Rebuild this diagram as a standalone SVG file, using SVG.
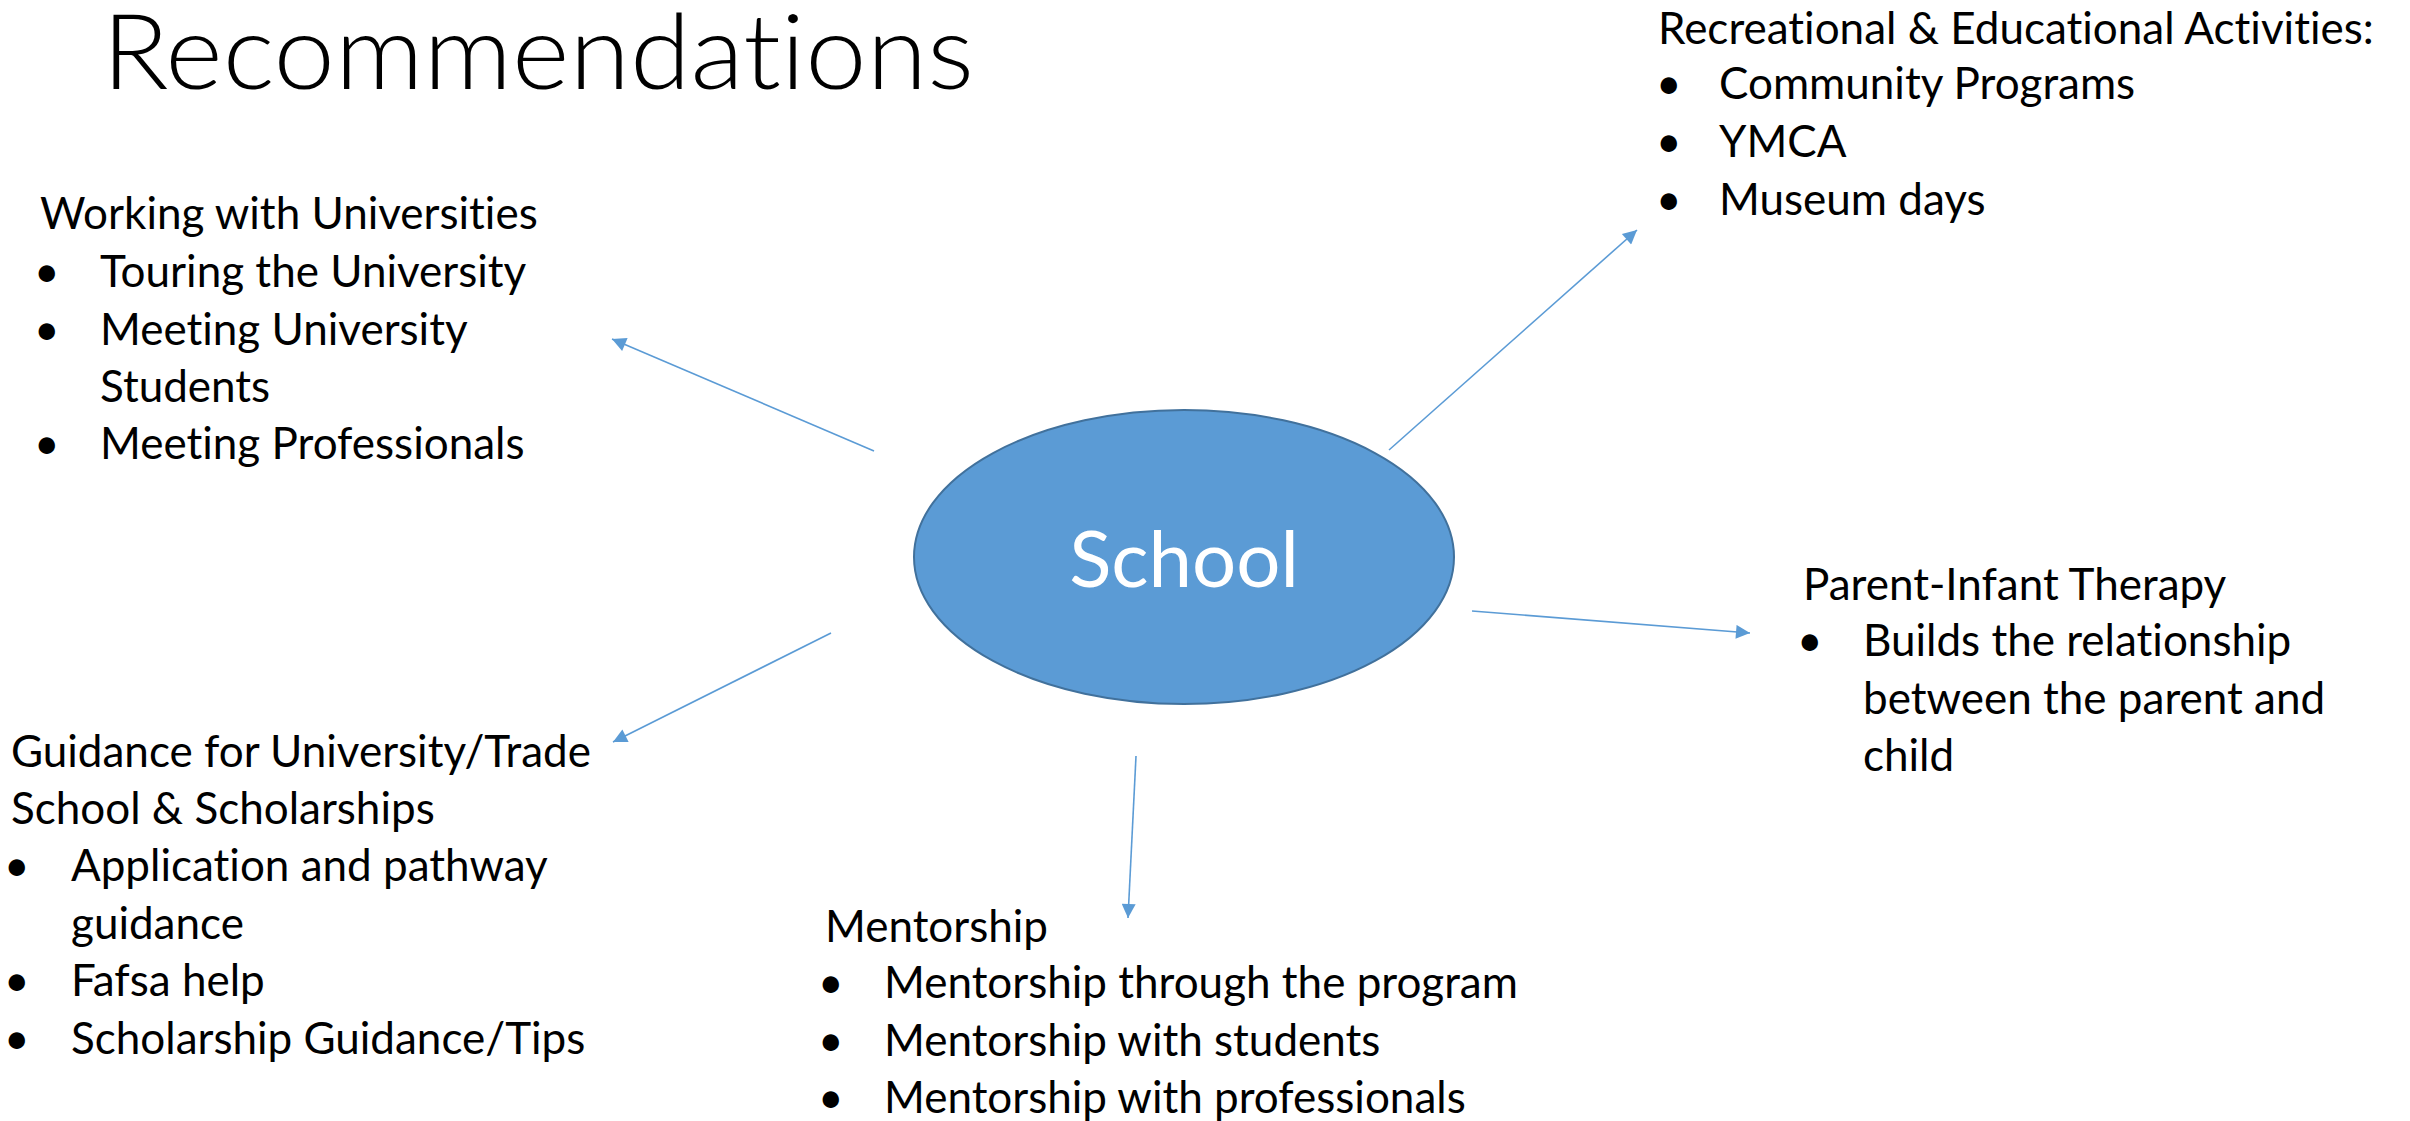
<svg xmlns="http://www.w3.org/2000/svg" width="2410" height="1121" viewBox="0 0 2410 1121">
<style>
text { font-family: Lato, "Open Sans", "Liberation Sans", sans-serif; fill: #000; font-variant-ligatures: none; font-feature-settings: "liga" 0, "clig" 0; }
.body { font-size: 44px; }
.title { font-size: 104px; font-weight: 300; }
.school { font-size: 78px; fill: #fff; }
.conn { stroke: #5B9BD5; stroke-width: 1.6; fill: none; }
</style>
<defs>
<marker id="ah" viewBox="0 0 10 10" refX="10" refY="5" markerWidth="17" markerHeight="14" markerUnits="userSpaceOnUse" orient="auto">
<path d="M0,0 L10,5 L0,10 z" fill="#5B9BD5"/>
</marker>
</defs>
<rect width="2410" height="1121" fill="#fff"/>
<text class="title" x="102" y="89" textLength="872" lengthAdjust="spacingAndGlyphs">Recommendations</text>

<g id="connectors">
<line class="conn" x1="874" y1="451" x2="612" y2="339" marker-end="url(#ah)"/>
<line class="conn" x1="1389" y1="450" x2="1637" y2="230" marker-end="url(#ah)"/>
<line class="conn" x1="1472" y1="611" x2="1750" y2="633" marker-end="url(#ah)"/>
<line class="conn" x1="831" y1="633" x2="613" y2="742" marker-end="url(#ah)"/>
<line class="conn" x1="1136" y1="756" x2="1128" y2="918" marker-end="url(#ah)"/>
</g>

<g id="school">
<ellipse cx="1184" cy="557" rx="270" ry="147" fill="#5B9BD5" stroke="#41719C" stroke-width="2"/>
<text class="school" x="1184" y="587" text-anchor="middle">School</text>
</g>

<g id="universities">
<text class="body" x="40" y="229">Working with Universities</text>
<text class="body" x="34" y="287">•</text><text class="body" x="100" y="287">Touring the University</text>
<text class="body" x="34" y="345">•</text><text class="body" x="100" y="345">Meeting University</text>
<text class="body" x="100" y="402">Students</text>
<text class="body" x="34" y="459">•</text><text class="body" x="100" y="459">Meeting Professionals</text>
</g>

<g id="recreational">
<text class="body" x="1658" y="44">Recreational &amp; Educational Activities:</text>
<text class="body" x="1656" y="99">•</text><text class="body" x="1719" y="99">Community Programs</text>
<text class="body" x="1656" y="157">•</text><text class="body" x="1719" y="157">YMCA</text>
<text class="body" x="1656" y="215">•</text><text class="body" x="1719" y="215">Museum days</text>
</g>

<g id="parent">
<text class="body" x="1803" y="600">Parent-Infant Therapy</text>
<text class="body" x="1797" y="656">•</text><text class="body" x="1863" y="656">Builds the relationship</text>
<text class="body" x="1863" y="714">between the parent and</text>
<text class="body" x="1863" y="771">child</text>
</g>

<g id="guidance">
<text class="body" x="11" y="767">Guidance for University/Trade</text>
<text class="body" x="11" y="824">School &amp; Scholarships</text>
<text class="body" x="4" y="881">•</text><text class="body" x="71" y="881">Application and pathway</text>
<text class="body" x="71" y="939">guidance</text>
<text class="body" x="4" y="996">•</text><text class="body" x="71" y="996">Fafsa help</text>
<text class="body" x="4" y="1054">•</text><text class="body" x="71" y="1054">Scholarship Guidance/Tips</text>
</g>

<g id="mentorship">
<text class="body" x="825" y="942">Mentorship</text>
<text class="body" x="818" y="998">•</text><text class="body" x="884" y="998">Mentorship through the program</text>
<text class="body" x="818" y="1056">•</text><text class="body" x="884" y="1056">Mentorship with students</text>
<text class="body" x="818" y="1113">•</text><text class="body" x="884" y="1113">Mentorship with professionals</text>
</g>
</svg>
